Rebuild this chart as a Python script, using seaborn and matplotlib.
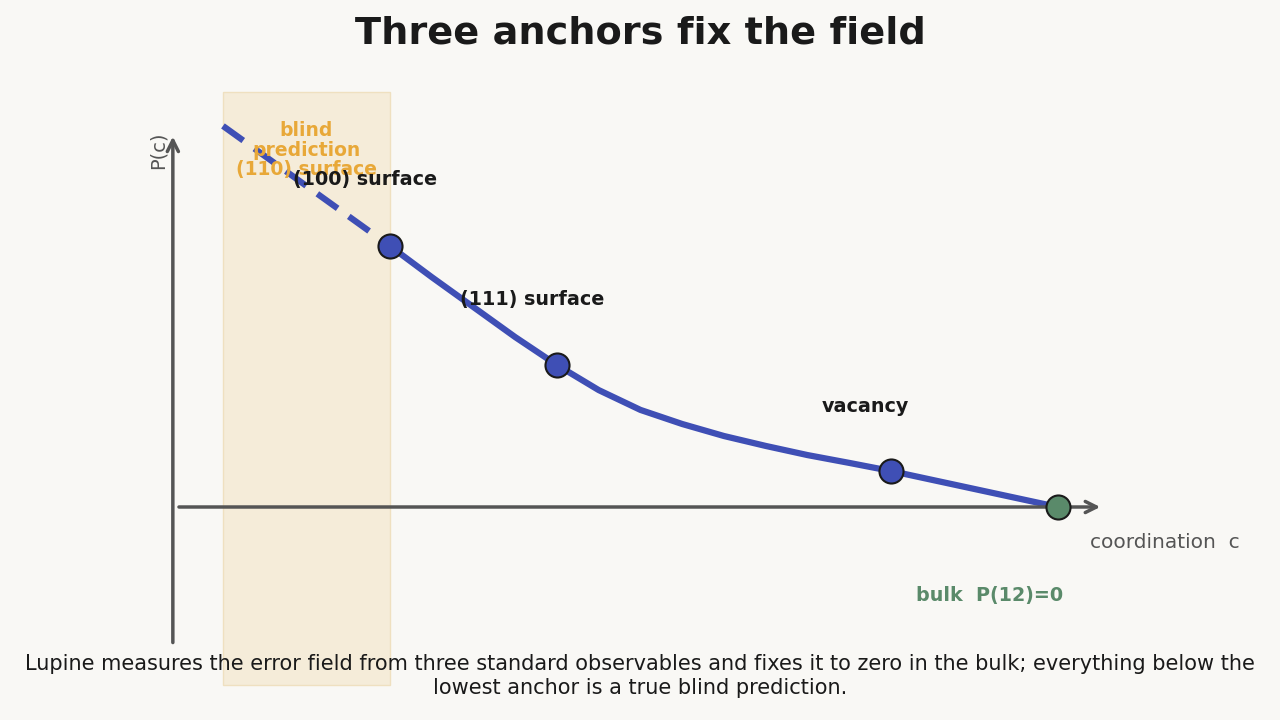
import matplotlib
matplotlib.use("Agg")
import matplotlib.pyplot as plt
import seaborn as sns
from matplotlib.patches import Rectangle

sns.set_style("white")
plt.rcParams['font.family'] = ['DejaVu Sans']

# data
solid_c = [8, 8.25, 8.5, 8.75, 9, 9.25, 9.5, 9.75, 10, 10.25, 10.5, 10.75, 11, 11.5, 12]
solid_p = [1.0, 0.881, 0.766, 0.651, 0.544, 0.448, 0.372, 0.318, 0.272, 0.234, 0.199, 0.169, 0.138, 0.069, 0.0]
dash_c = [7, 7.5, 8]
dash_p = [1.46, 1.23, 1.0]
anchor_c = [8, 9, 11]
anchor_p = [1.0, 0.544, 0.138]
anchor_labels = ["(100) surface", "(111) surface", "vacancy"]
bulk_c, bulk_p = 12, 0.0

bg = "#f9f8f5"
blue = "#3f4fb5"
green = "#5a8a6a"
orange = "#e8a838"
grey = "#555555"

fig = plt.figure(figsize=(12.8, 7.2), dpi=100, facecolor=bg)
ax = fig.add_axes([0, 0, 1, 1])
ax.set_facecolor(bg)
ax.set_xlim(5.665, 5.665 + 1280 / 167)
ax.set_ylim(-213 / 261, 507 / 261)
ax.axis("off")

ax.add_patch(Rectangle((7, -0.681), 1, 2.272, facecolor="#f5ecd9", edgecolor="#efe0c0", lw=1, zorder=0))

sns.lineplot(x=solid_c, y=solid_p, ax=ax, color=blue, lw=4.5, zorder=3)
ax.lines[-1].set_solid_capstyle("round")
sns.lineplot(x=dash_c, y=dash_p, ax=ax, color=blue, lw=4.5, zorder=3)
ax.lines[-1].set_dashes([4, 2.2])

ax.annotate("", xy=(6.7, 1.43), xytext=(6.7, -0.53),
            arrowprops=dict(arrowstyle="->", color=grey, lw=2.5, mutation_scale=20))
ax.annotate("", xy=(12.27, 0), xytext=(6.72, 0),
            arrowprops=dict(arrowstyle="->", color=grey, lw=2.5, mutation_scale=20))

sns.scatterplot(x=anchor_c, y=anchor_p, ax=ax, s=300, color=blue, edgecolor="#1a1a1a", linewidth=1.5, zorder=5)
sns.scatterplot(x=[bulk_c], y=[bulk_p], ax=ax, s=300, color=green, edgecolor="#1a1a1a", linewidth=1.5, zorder=5)

def px(x, y):
    return (5.665 + x / 167, (507 - y) / 261)

ax.text(*px(158, 150), "P(c)", rotation=90, ha="center", va="center", fontsize=14, color=grey)
ax.text(*px(1090, 542), "coordination  c", ha="left", va="center", fontsize=14.5, color=grey)
ax.text(*px(306, 150), "blind\nprediction\n(110) surface", ha="center", va="center",
        fontsize=13.5, color=orange, fontweight="bold", linespacing=1.05, zorder=6)
ax.text(*px(293, 180), anchor_labels[0], ha="left", va="center", fontsize=13.8, fontweight="bold", color="#1a1a1a", zorder=6)
ax.text(*px(460, 299), anchor_labels[1], ha="left", va="center", fontsize=13.8, fontweight="bold", color="#1a1a1a")
ax.text(*px(865, 406), anchor_labels[2], ha="center", va="center", fontsize=13.8, fontweight="bold", color="#1a1a1a")
ax.text(*px(990, 596), "bulk  P(12)=0", ha="center", va="center", fontsize=13.8, fontweight="bold", color=green)

fig.text(0.5, 1 - 33 / 720, "Three anchors fix the field", ha="center", va="center",
         fontsize=27.5, fontweight="bold", color="#1a1a1a")
fig.text(0.5, 1 - 676 / 720, "Lupine measures the error field from three standard observables and fixes it to zero in the bulk; everything below the\nlowest anchor is a true blind prediction.",
         ha="center", va="center", fontsize=15, color="#1a1a1a", linespacing=1.2)

fig.savefig("out.png", dpi=100, facecolor=bg)
